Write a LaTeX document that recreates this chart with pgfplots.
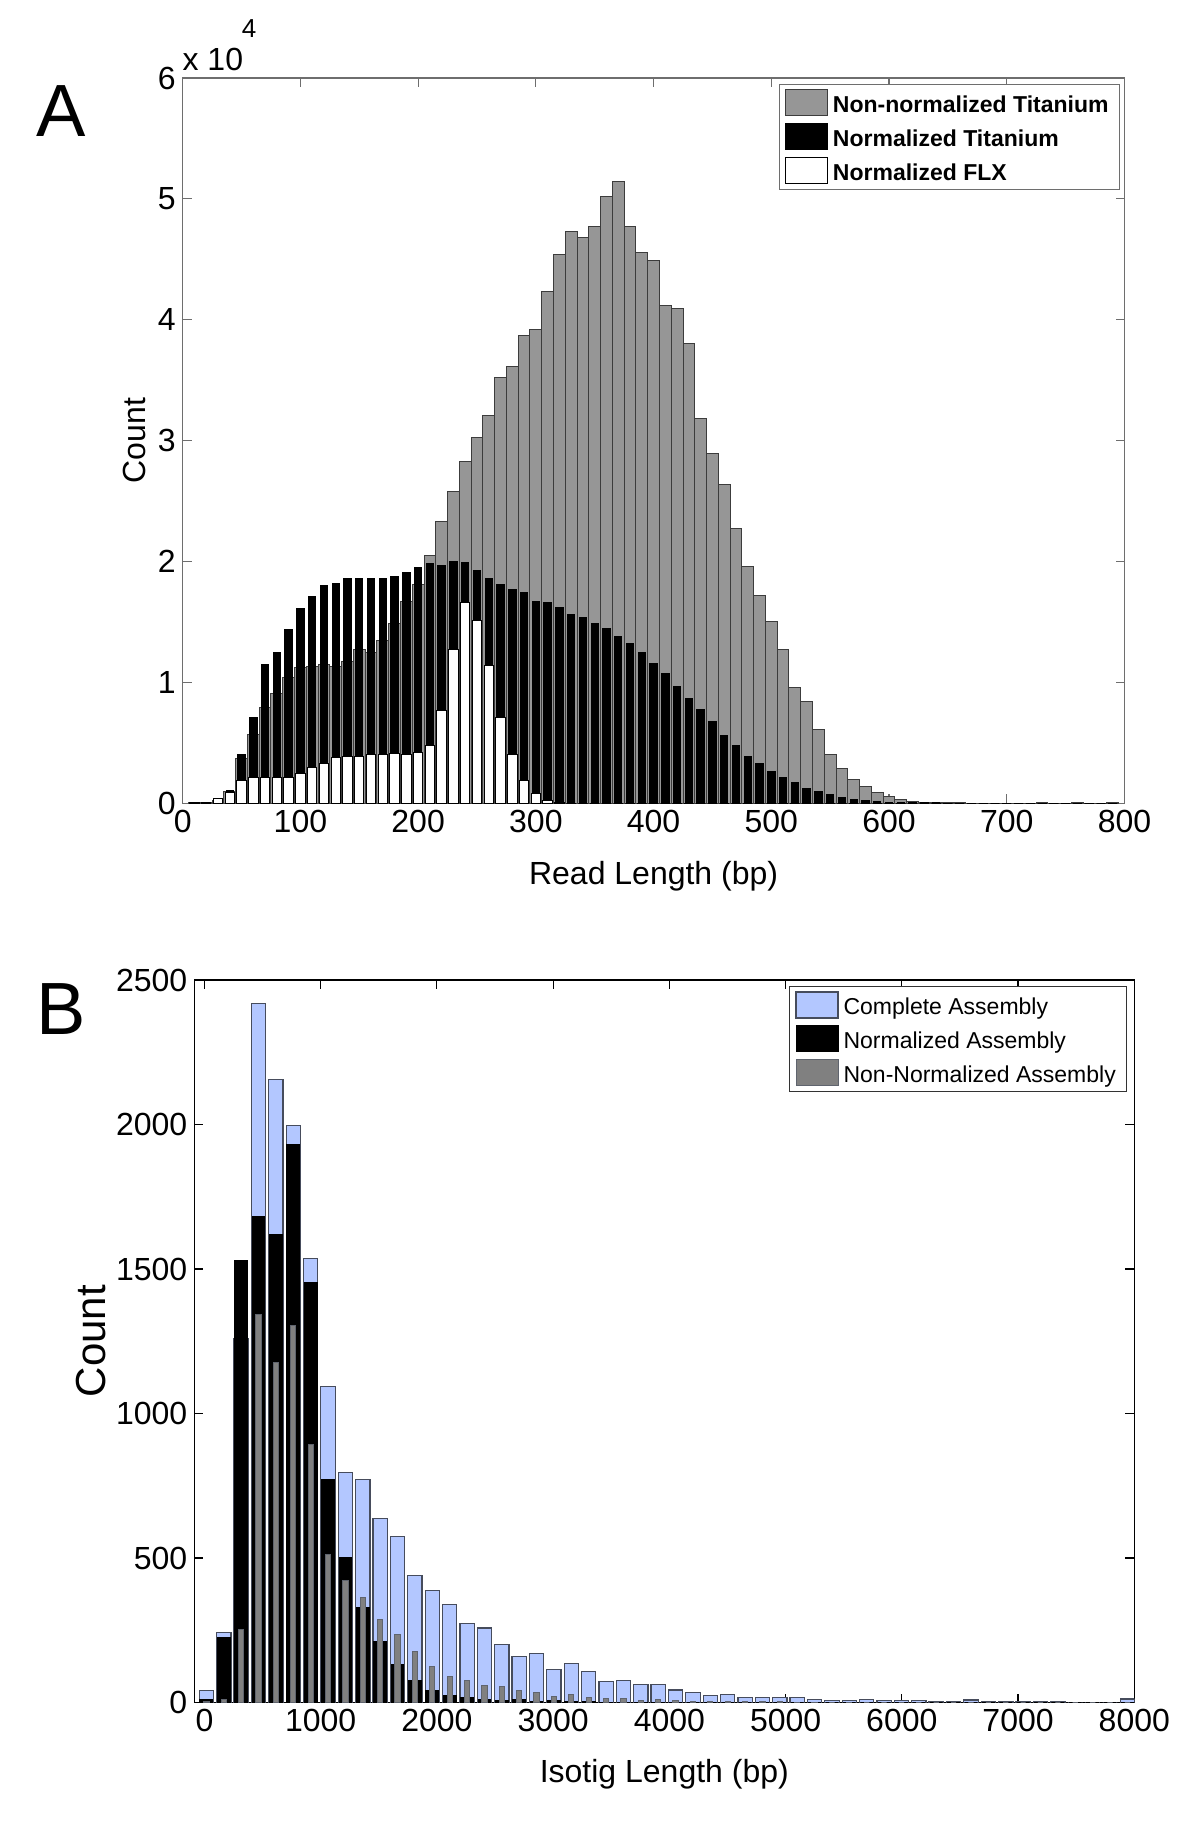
\documentclass[border=0pt]{standalone}
\usepackage{pgfplots}
\pgfplotsset{compat=1.18}
\usepackage{pgfplotstable}
\usepackage{fontspec}
\setmainfont{Liberation Sans}
\definecolor{agray}{RGB}{150,150,150}
\definecolor{aedge}{RGB}{60,60,60}
\definecolor{abox}{RGB}{110,110,110}
\definecolor{bblue}{RGB}{179,199,255}
\definecolor{bblueedge}{RGB}{70,76,92}
\definecolor{bgray}{RGB}{128,128,128}
\definecolor{bgrayedge}{RGB}{95,100,110}
\pgfplotsset{patchleg/.style={legend image code/.code={\draw[##1] (0pt,-6.5pt) rectangle (21pt,6.5pt);}}}

% Panel A data (counts in units of 10^4), bins of 10 bp
\pgfplotstableread{
x nonnorm norm flx
10 0.005 0.003 0.003
20 0.005 0.003 0.003
30 0.02 0.01 0.036
40 0.10 0.11 0.09
50 0.37 0.40 0.185
60 0.57 0.71 0.215
70 0.79 1.15 0.21
80 0.91 1.25 0.215
90 1.04 1.44 0.215
100 1.12 1.61 0.25
110 1.13 1.71 0.30
120 1.15 1.80 0.33
130 1.13 1.82 0.38
140 1.17 1.86 0.39
150 1.27 1.86 0.39
160 1.25 1.86 0.40
170 1.35 1.86 0.40
180 1.49 1.88 0.41
190 1.67 1.91 0.40
200 1.81 1.95 0.42
210 2.05 1.98 0.48
220 2.33 1.97 0.77
230 2.58 2.00 1.27
240 2.83 1.99 1.66
250 3.03 1.93 1.51
260 3.21 1.86 1.14
270 3.52 1.81 0.71
280 3.61 1.77 0.40
290 3.87 1.74 0.19
300 3.92 1.67 0.08
310 4.23 1.66 0.02
320 4.54 1.62 0.005
330 4.73 1.56 0
340 4.68 1.54 0
350 4.77 1.49 0
360 5.02 1.45 0
370 5.14 1.38 0
380 4.77 1.32 0
390 4.56 1.25 0
400 4.49 1.16 0
410 4.12 1.07 0
420 4.09 0.97 0
430 3.80 0.87 0
440 3.18 0.78 0
450 2.89 0.68 0
460 2.64 0.56 0
470 2.27 0.48 0
480 1.96 0.39 0
490 1.72 0.33 0
500 1.50 0.26 0
510 1.27 0.215 0
520 0.96 0.17 0
530 0.84 0.125 0
540 0.61 0.097 0
550 0.40 0.072 0
560 0.285 0.047 0
570 0.20 0.028 0
580 0.14 0.025 0
590 0.086 0.011 0
600 0.058 0.008 0
610 0.033 0.004 0
620 0.017 0.004 0
630 0.008 0.004 0
640 0.005 0.004 0
650 0.003 0 0
660 0.003 0 0
670 0.002 0 0
680 0.002 0 0
690 0.002 0 0
700 0.002 0 0
710 0.002 0 0
720 0.002 0 0
730 0.003 0 0
740 0.002 0 0
750 0.002 0 0
760 0.003 0 0
770 0.002 0 0
780 0.002 0 0
790 0.003 0 0
}\dataA

% Panel B data (counts), bins of 149.5 bp
\pgfplotstableread{
x complete norm nonnorm
17 41 12 5
166.5 243 225 9
316 1258 1531 254
465.5 2419 1681 1343
615 2156 1621 1177
764.5 1996 1931 1306
914 1536 1453 892
1063.5 1093 772 513
1213 796 502 423
1362.5 773 329 363
1512 637 212 288
1661.5 574 133 236
1811 440 76 176
1960.5 388 43 124
2110 340 24 91
2259.5 273 18 76
2409 258 12 58
2558.5 201 6 55
2708 158 11 42
2857.5 169 3 35
3007 115 6 20
3156.5 136 2 28
3306 106 2 17
3455.5 72 1 13
3605 76 1 13
3754.5 62 1 6
3904 63 1 10
4053.5 43 0 8
4203 35 0 3
4352.5 24 0 5
4502 27 0 4
4651.5 17 0 2
4801 17 0 3
4950.5 18 0 2
5100 18 0 1
5249.5 11 0 1
5399 7.5 0 0
5548.5 7.5 0 1
5698 11 0 0
5847.5 7.5 0 0
5997 7.5 0 0
6146.5 7.5 0 0
6296 3 0 0
6445.5 3 0 0
6595 9 0 0
6744.5 3 0 0
6894 3 0 0
7043.5 3 0 0
7193 3 0 0
7342.5 3 0 0
7492 0 0 0
7641.5 0 0 0
7791 0 0 0
7940.5 12 0 0
}\dataB

\begin{document}
\begin{tikzpicture}
\useasboundingbox (0,0) rectangle (600pt,-918pt);
\node[font=\fontsize{37}{40}\selectfont] at (30.5pt,-55.5pt) {A};
\node[font=\fontsize{37}{40}\selectfont] at (30.5pt,-504.5pt) {B};

% ---------------- Panel A ----------------
\begin{axis}[
  at={(91.35pt,-401.65pt)}, anchor=south west,
  scale only axis, width=470.9pt, height=362.65pt,
  clip=false,
  xmin=0, xmax=800, ymin=0, ymax=6,
  xtick={0,100,...,800}, ytick={0,1,...,6},
  xtick pos=both, ytick pos=both, tick align=inside,
  major tick length=4.5pt,
  axis line style={abox, line width=0.6pt},
  every tick/.style={abox, line width=0.6pt},
  /pgf/number format/assume math mode=true,
  /pgf/number format/1000 sep={},
  scaled y ticks=false,
  tick label style={font=\fontsize{16}{18}\selectfont, black},
  xlabel={Read Length (bp)}, ylabel={Count},
  label style={font=\fontsize{16}{18}\selectfont},
  xlabel style={at={(axis description cs:0.5,-0.1)}, anchor=center},
  ylabel style={at={(axis description cs:-0.051,0.5)}, anchor=center},
  legend cell align=left,
  legend style={at={(0.9952,0.9917)}, anchor=north east, draw=abox, fill=white,
    font=\fontsize{11.5}{13}\selectfont\bfseries, inner xsep=3pt, inner ysep=2pt, row sep=2.5pt,
    nodes={inner xsep=2.5pt, inner ysep=1.5pt, text height=10.5pt, text depth=1pt}},
]
\addplot[ybar, bar width=10, bar shift=0pt, fill=agray, draw=aedge, line width=0.5pt, patchleg] table[x=x, y=nonnorm] {\dataA};
\addlegendentry{Non-normalized Titanium}
\addplot[ybar, bar width=6.3, bar shift=0pt, fill=black, draw=black, line width=0.5pt, patchleg] table[x=x, y=norm] {\dataA};
\addlegendentry{Normalized Titanium}
\addplot[ybar, bar width=8, bar shift=0pt, fill=white, draw=black, line width=0.5pt, patchleg] table[x=x, y=flx] {\dataA};
\addlegendentry{Normalized FLX}
\node[font=\fontsize{16}{18}\selectfont] at (axis description cs:0.032,1.0256) {x 10};
\node[font=\fontsize{13}{15}\selectfont] at (axis description cs:0.0704,1.0676) {4};
\end{axis}

% ---------------- Panel B ----------------
\begin{axis}[
  at={(97.15pt,-851.25pt)}, anchor=south west,
  scale only axis, width=470pt, height=361.25pt,
  xmin=-87, xmax=8000, ymin=0, ymax=2500,
  xtick={0,1000,...,8000}, ytick={0,500,...,2500},
  xtick pos=both, ytick pos=both, tick align=inside,
  major tick length=4.5pt,
  axis line style={black, line width=0.6pt},
  every tick/.style={black, line width=0.6pt},
  /pgf/number format/assume math mode=true,
  /pgf/number format/1000 sep={},
  scaled x ticks=false, scaled y ticks=false,
  tick label style={font=\fontsize{16}{18}\selectfont, black},
  xlabel={Isotig Length (bp)}, ylabel={Count},
  xlabel style={font=\fontsize{16}{18}\selectfont, at={(axis description cs:0.5,-0.099)}, anchor=center},
  ylabel style={font=\fontsize{21}{24}\selectfont, at={(axis description cs:-0.11,0.5)}, anchor=center},
  legend cell align=left,
  legend style={at={(0.9925,0.9917)}, anchor=north east, draw=black!80, fill=white,
    font=\fontsize{11.5}{13}\selectfont, inner xsep=3pt, inner ysep=2pt, row sep=2.5pt,
    nodes={inner xsep=2.5pt, inner ysep=1.5pt, text height=10.5pt, text depth=1pt}},
]
\addplot[ybar, bar width=123, bar shift=0pt, fill=bblue, draw=bblueedge, line width=0.6pt, patchleg] table[x=x, y=complete] {\dataB};
\addlegendentry{Complete Assembly}
\addplot[ybar, bar width=110, bar shift=0pt, fill=black, draw=black, line width=0.5pt, patchleg] table[x=x, y=norm] {\dataB};
\addlegendentry{Normalized Assembly}
\addplot[ybar, bar width=45, bar shift=0pt, fill=bgray, draw=bgrayedge, line width=0.5pt, patchleg] table[x=x, y=nonnorm] {\dataB};
\addlegendentry{Non-Normalized Assembly}
\end{axis}
\end{tikzpicture}
\end{document}
